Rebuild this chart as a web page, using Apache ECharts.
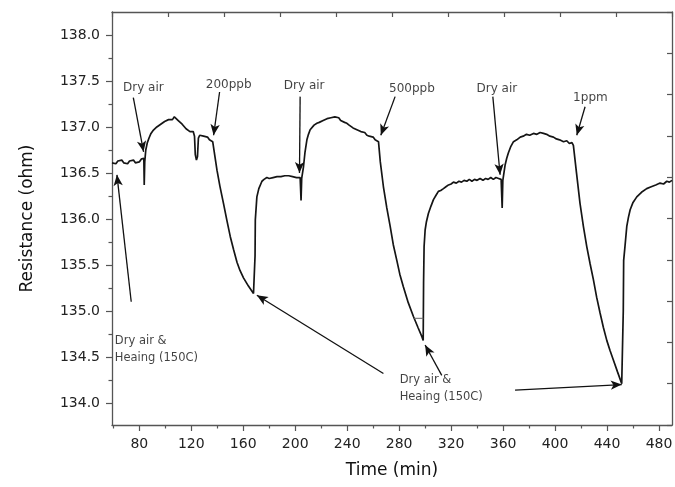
<!DOCTYPE html>
<html>
<head>
<meta charset="utf-8">
<script src="https://cdn.jsdelivr.net/npm/echarts@6/dist/echarts.min.js"></script>
<style>
html,body{margin:0;padding:0;background:#fff;}
#chart{width:675px;height:487px;}
</style>
</head>
<body>
<div id="chart"></div>
<script>
// ---- data ----
const timeMin = [
 59,60.5,62,63.5,65,66.5,68,69.5,71,72.5,74,75.5,77,78.5,80,81.5,83,83.5,83.8,84.2,85,86.2,87.5,89,90.5,92,93.5,95,96.5,98,99.5,101,102.5,104,105.5,107,108.5,110,111.5,113,114.5,116,117.5,119,120.5,121.5,122.5,123.1,124,124.8,125.5,126.5,128,129.5,131,132.5,134,135.5,136.5,
 139.8,142,144.8,147.5,150,152.5,155.2,157.5,160.2,164,167.9,168.8,
 169.1,169.3,170.5,172,173.1,174.4,176,178.2,180,181.5,183,184.5,186,187.5,189,190.5,192,193.5,195,196.5,198,199.5,201,202.5,203.8,204.5,205,206.4,207.5,209,210.2,211.5,213,214.5,216.7,218.5,220,221.5,223,224.5,226,227.5,229,230.5,232,233.5,235,236.5,238,239.8,241.5,243,244.5,246,247.5,249,250.5,252,253.5,255.2,257,258.5,260,261.5,263,264.1,
 265.5,267.9,270.5,273.1,275.5,278.2,280.5,283.3,287,291,294.5,297.5,298.5,
 298.8,299.2,300,301,302.5,304.5,306.4,308.5,310.2,312,314.1,316,318,320,321.8,324,326,328,330,332.1,334,336,338,340,342.3,344.5,346.5,348.5,350.5,352.5,354.5,356.5,358.5,359.3,359.8,361.6,362.8,364.1,366,368,370.5,373.2,375.5,378,380.5,383.4,386,388.5,391.1,393.5,396,398.8,401,403.5,406.5,409,411,413,414.1,
 416.5,419.2,421.8,424.4,427,429.5,432,434.6,437.2,439.8,442.3,444.8,448,451.3,452.2,
 452.5,452.8,453.8,455.2,456.5,457.8,460,462.9,466.5,470.5,474,477.5,480.8,483.5,486,488,490
];
const resistanceOhm = [
 136.61,136.63,136.60,136.63,136.61,136.64,136.61,136.63,136.60,136.63,136.62,136.64,136.61,136.63,136.62,136.65,136.63,136.66,136.37,136.62,136.75,136.83,136.88,136.93,136.96,136.97,137.00,136.99,137.03,137.04,137.06,137.05,137.08,137.10,137.08,137.11,137.09,137.07,137.06,137.03,137.02,136.98,136.99,136.95,136.94,136.95,136.90,136.70,136.64,136.68,136.88,136.91,136.89,136.90,136.88,136.89,136.86,136.87,136.84,
 136.53,136.36,136.17,135.98,135.81,135.67,135.53,135.44,135.36,135.27,135.19,135.17,
 135.60,135.99,136.24,136.33,136.35,136.41,136.43,136.45,136.44,136.46,136.45,136.47,136.46,136.48,136.46,136.48,136.47,136.45,136.47,136.45,136.46,136.44,136.45,136.43,136.45,136.20,136.44,136.57,136.72,136.86,136.92,136.97,136.99,137.02,137.04,137.05,137.04,137.07,137.06,137.09,137.07,137.10,137.08,137.11,137.09,137.10,137.07,137.08,137.05,137.04,137.02,137.03,136.99,137.00,136.97,136.96,136.95,136.93,136.94,136.91,136.90,136.88,136.89,136.86,136.85,136.84,
 136.62,136.35,136.12,135.92,135.72,135.55,135.40,135.26,135.09,134.94,134.82,134.72,134.68,
 135.30,135.70,135.88,135.97,136.06,136.14,136.21,136.26,136.30,136.31,136.33,136.35,136.37,136.38,136.40,136.39,136.41,136.40,136.42,136.41,136.43,136.41,136.43,136.42,136.44,136.42,136.44,136.43,136.45,136.43,136.45,136.44,136.43,136.12,136.42,136.59,136.66,136.72,136.79,136.84,136.86,136.89,136.90,136.92,136.91,136.93,136.92,136.94,136.93,136.92,136.90,136.89,136.87,136.86,136.84,136.85,136.82,136.83,136.80,
 136.50,136.17,135.92,135.70,135.51,135.34,135.15,134.98,134.82,134.68,134.57,134.47,134.34,134.21,134.19,
 135.00,135.55,135.70,135.92,136.02,136.10,136.18,136.24,136.29,136.33,136.35,136.37,136.39,136.38,136.41,136.40,136.42
];
// small horizontal trace fragment near 295 min
const fragTime = [291, 298.7];
const fragOhm = [134.92, 134.92];

const xMajorTicks = [80,120,160,200,240,280,320,360,400,440,480];
const xMinorTicks = [60,100,140,180,220,260,300,340,380,420,460];
const yMajorTicks = [134.0,134.5,135.0,135.5,136.0,136.5,137.0,137.5,138.0];
const yMinorTicks = [134.25,134.75,135.25,135.75,136.25,136.75,137.25,137.75];

// annotation texts (anchor in data coords)
const noteText = ['Dry air','200ppb','Dry air','500ppb','Dry air','1ppm'];
const noteX = [83.1,148.8,206.9,289.8,355.2,427.2];
const noteY = [137.42,137.46,137.45,137.41,137.41,137.32];
const blockText = ['Dry air &\nHeaing (150C)','Dry air &\nHeaing (150C)'];
const blockX = [60.8,280.0];
const blockY = [134.58,134.16];
// arrows: from -> to (data coords)
const arrowFrom = [[75.4,137.32],[141.8,137.38],[203.8,137.33],[276.9,137.33],[352.1,137.33],[423.1,137.22],[73.8,135.10],[267.9,134.32],[312.8,134.30],[369.2,134.14]];
const arrowTo   = [[83.3,136.73],[137.2,136.91],[203.3,136.50],[265.9,136.91],[357.7,136.48],[416.7,136.91],[62.8,136.48],[170.5,135.17],[300.0,134.63],[451.3,134.20]];

const FONT = 'DejaVu Sans';
const axisColor = '#555';
const textColor = '#222';

const chart = echarts.init(document.getElementById('chart'), null, {renderer:'canvas'});
const option = {
  animation:false,
  backgroundColor:'#fff',
  grid:{left:112, right:3, top:12, bottom:62, containLabel:false, outerBoundsMode:'none'},
  xAxis:[
    {type:'value', position:'bottom', min:59, max:490,
     axisLine:{show:true, lineStyle:{color:axisColor, width:1.3}},
     axisTick:{show:true, length:6, inside:false, customValues:xMajorTicks, lineStyle:{color:axisColor, width:1.2}},
     axisLabel:{show:true, customValues:xMajorTicks, margin:12, fontFamily:FONT, fontSize:14, color:textColor},
     splitLine:{show:false},
     name:'Time (min)', nameLocation:'middle', nameGap:37,
     nameTextStyle:{fontFamily:FONT, fontSize:17, color:'#111'}},
    {type:'value', position:'bottom', min:59, max:490,
     axisLine:{show:false},
     axisTick:{show:true, length:3.5, inside:false, customValues:xMinorTicks, lineStyle:{color:axisColor, width:1.2}},
     axisLabel:{show:false}, splitLine:{show:false}},
    {type:'value', position:'top', min:0, max:10, interval:1,
     axisLine:{show:true, lineStyle:{color:axisColor, width:1.3}},
     axisTick:{show:true, inside:true, length:5, lineStyle:{color:axisColor, width:1.2}},
     axisLabel:{show:false}, splitLine:{show:false}}
  ],
  yAxis:[
    {type:'value', position:'left', min:133.76, max:138.25,
     axisLine:{show:true, lineStyle:{color:axisColor, width:1.3}},
     axisTick:{show:true, length:6, inside:false, customValues:yMajorTicks, lineStyle:{color:axisColor, width:1.2}},
     axisLabel:{show:true, customValues:yMajorTicks, margin:12, fontFamily:FONT, fontSize:14, color:textColor,
       formatter:v=>Number(v).toFixed(1)},
     splitLine:{show:false},
     name:'Resistance (ohm)', nameLocation:'middle', nameGap:76,
     nameTextStyle:{fontFamily:FONT, fontSize:17, color:'#111'}},
    {type:'value', position:'left', min:133.76, max:138.25,
     axisLine:{show:false},
     axisTick:{show:true, length:3.5, inside:false, customValues:yMinorTicks, lineStyle:{color:axisColor, width:1.2}},
     axisLabel:{show:false}, splitLine:{show:false}},
    {type:'value', position:'right', min:0, max:10, interval:1,
     axisLine:{show:true, lineStyle:{color:axisColor, width:1.3}},
     axisTick:{show:true, inside:true, length:5, lineStyle:{color:axisColor, width:1.2}},
     axisLabel:{show:false}, splitLine:{show:false}}
  ],
  series:[
    {type:'line', xAxisIndex:0, yAxisIndex:0, symbol:'none', smooth:false,
     data: timeMin.map((t,i)=>[t, resistanceOhm[i]]),
     lineStyle:{color:'#151515', width:1.7},
     markLine:{silent:true, symbol:['none','arrow'], symbolSize:[7,11], animation:false,
       label:{show:false},
       lineStyle:{color:'#111', width:1.3, type:'solid'},
       emphasis:{disabled:true},
       data: arrowFrom.map((f,i)=>[{coord:f},{coord:arrowTo[i]}])}},
    {type:'line', xAxisIndex:0, yAxisIndex:0, symbol:'none',
     data: fragTime.map((t,i)=>[t, fragOhm[i]]),
     lineStyle:{color:'#666', width:1}},
    {type:'scatter', xAxisIndex:0, yAxisIndex:0, symbolSize:1, itemStyle:{color:'rgba(0,0,0,0)'}, silent:true,
     data: noteText.map((s,i)=>({name:s, value:[noteX[i], noteY[i]]})),
     label:{show:true, position:'inside', formatter:p=>p.name, fontFamily:FONT, fontSize:12, color:'#111'}},
    {type:'scatter', xAxisIndex:0, yAxisIndex:0, symbolSize:1, itemStyle:{color:'rgba(0,0,0,0)'}, silent:true,
     data: blockText.map((s,i)=>({name:s, value:[blockX[i], blockY[i]]})),
     label:{show:true, position:'right', distance:0, align:'left', lineHeight:17, formatter:p=>p.name, fontFamily:FONT, fontSize:11.5, color:'#111'}}
  ]
};
chart.setOption(option);
</script>
</body>
</html>
